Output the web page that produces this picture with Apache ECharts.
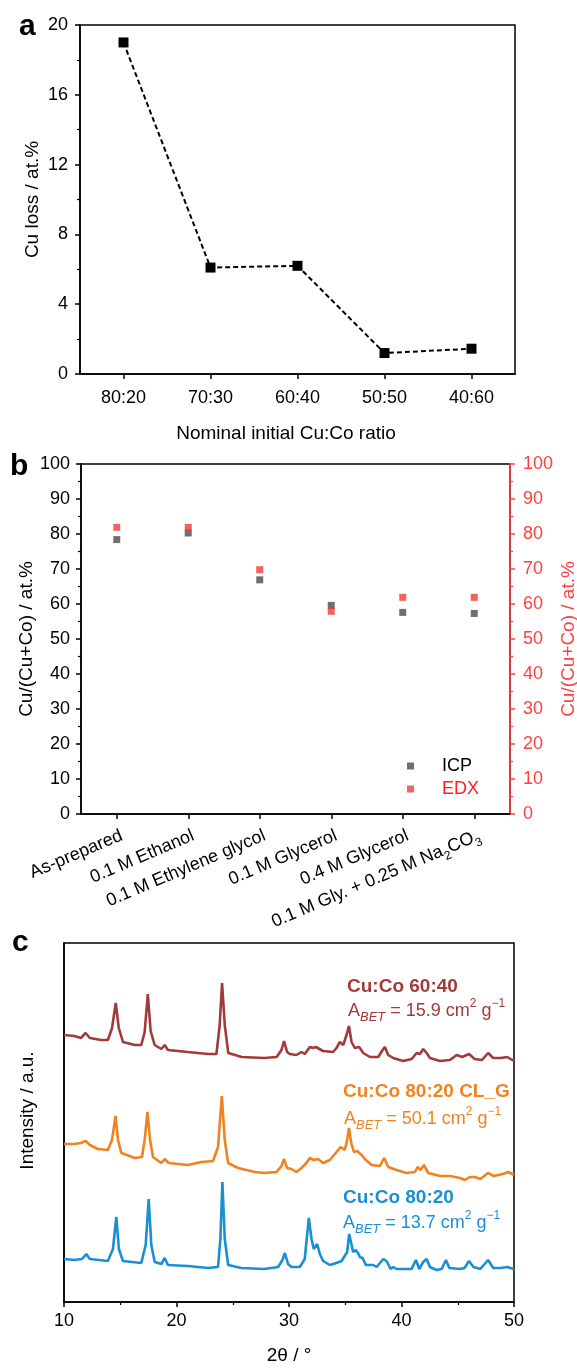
<!DOCTYPE html>
<html><head><meta charset="utf-8">
<script src="https://cdn.jsdelivr.net/npm/echarts@6/dist/echarts.min.js"></script>
<style>html,body{margin:0;padding:0;background:#fff}#c{width:577px;height:1370px}</style>
</head><body><div id="c"></div>
<script>
// ---- Panel a data ----
const ratioCats = ['80:20', '70:30', '60:40', '50:50', '40:60'];
const cuLoss = [19.0, 6.1, 6.2, 1.2, 1.45];

// ---- Panel b data ----
const solCats = ['As-prepared', '0.1 M Ethanol', '0.1 M Ethylene glycol', '0.1 M Glycerol', '0.4 M Glycerol', '0.1 M Gly. + 0.25 M Na2CO3'];
const icp = [78.4, 80.3, 66.9, 59.6, 57.6, 57.3];
const edx = [81.9, 81.9, 69.8, 57.9, 61.9, 61.9];

// ---- Panel c data: [2theta, intensity (a.u.)] ----
const xrd6040 = [[10.0,267],[10.9,266],[11.5,264],[11.92,269],[12.3,264],[13.3,262],[13.9,262],[14.27,274],[14.6,299],[14.87,274],[15.24,260],[16.3,257],[16.87,257],[17.17,270],[17.45,308],[17.7,271],[18.06,257],[18.65,253],[18.95,257],[19.24,252],[21.0,250],[22.8,248],[23.55,248],[23.84,277],[24.05,319],[24.29,277],[24.6,249],[25.8,245],[27.8,244],[28.9,245],[29.33,252],[29.56,261],[29.83,250],[30.07,248],[30.66,247],[31.11,250],[31.4,248],[31.85,255],[32.15,254],[32.38,255],[33.03,251],[33.92,250],[34.22,254],[34.52,260],[34.82,257],[35.11,267],[35.33,276],[35.56,260],[35.85,254],[36.24,255],[36.6,249],[37.19,245],[37.93,245],[38.32,252],[38.52,255],[38.82,247],[39.26,244],[40.15,241],[40.9,243],[41.34,249],[41.64,248],[41.93,253],[42.23,249],[42.53,244],[43.42,241],[44.3,242],[44.9,247],[45.4,245],[46.0,248],[46.5,243],[47.15,242],[47.7,249],[48.15,244],[48.8,244],[49.4,245],[50.0,241]];
const xrd8020CLG = [[10.0,158],[10.9,158],[11.5,159],[11.92,161],[12.3,157],[13.0,153],[13.9,152],[14.27,162],[14.58,186],[14.8,162],[15.1,149],[16.3,144],[16.93,145],[17.17,162],[17.42,190],[17.65,162],[17.91,145],[18.65,139],[18.95,143],[19.31,139],[21.0,137],[22.2,140],[23.25,141],[23.69,155],[24.03,206],[24.29,162],[24.59,139],[25.47,134],[26.96,130],[27.8,129],[28.9,130],[29.33,136],[29.56,143],[29.83,134],[30.22,133],[30.66,130],[31.11,134],[31.55,139],[31.85,144],[32.2,142],[32.59,143],[33.03,139],[33.63,142],[34.22,150],[34.58,155],[34.96,152],[35.17,162],[35.33,174],[35.53,159],[35.77,150],[36.06,151],[36.45,147],[36.83,142],[37.34,137],[38.08,136],[38.46,144],[38.82,135],[39.56,132],[40.45,129],[41.19,130],[41.43,135],[41.7,132],[41.99,137],[42.38,129],[43.42,126],[44.3,126],[45.2,124],[45.64,122],[46.08,125],[46.5,125],[47.0,123],[47.7,129],[48.2,126],[49.0,128],[49.5,130],[50.0,127]];
const xrd8020 = [[10.0,43],[10.9,42],[11.6,43],[11.98,48],[12.3,43],[13.9,41],[14.35,53],[14.65,85],[14.88,53],[15.24,41],[16.87,39],[17.26,57],[17.53,103],[17.76,57],[18.06,40],[18.65,38],[18.95,44],[19.24,37],[21.0,36],[22.8,34],[23.69,35],[23.9,63],[24.08,120],[24.29,63],[24.59,37],[25.77,34],[27.8,33],[29.03,35],[29.42,42],[29.63,49],[29.92,38],[30.22,35],[30.96,35],[31.4,43],[31.61,67],[31.76,84],[32.0,63],[32.2,53],[32.5,58],[32.74,48],[33.03,41],[33.63,37],[34.22,39],[34.67,41],[35.17,50],[35.35,68],[35.47,70],[35.7,50],[35.94,52],[36.18,48],[36.3,45],[36.54,44],[36.83,37],[37.49,37],[37.79,35],[38.38,43],[38.67,41],[39.03,33],[39.26,35],[39.56,33],[40.45,33],[40.9,33],[41.28,42],[41.58,33],[41.93,40],[42.23,43],[42.53,35],[43.12,32],[43.57,33],[43.95,42],[44.25,34],[45.2,33],[45.6,34],[46.0,41],[46.4,35],[47.0,33],[47.7,42],[48.15,34],[48.8,34],[49.4,35],[50.0,33]];

const FONT = 'Liberation Sans, Arial, Helvetica, sans-serif';
const C_RED = '#a23a3a', C_ORA = '#f0831f', C_BLU = '#1a8fd3';
const AX_RED = '#ff4040';

const chart = echarts.init(document.getElementById('c'), null, {renderer: 'canvas'});

const axLine = (c) => ({show: true, onZero: false, lineStyle: {color: c || '#000', width: 1.5}});
const tick = (c) => ({show: true, inside: false, length: 5, lineStyle: {color: c || '#000', width: 1.5}});
const minor = (c) => ({show: true, splitNumber: 2, length: 3, lineStyle: {color: c || '#000', width: 1.2}});

function abet(val) {
  return '{a|A}{b|BET}{a| = ' + val + ' cm}{c|2}{a| g}{c|\u22121}';
}
function abetRich(color) {
  return {
    a: {fontSize: 18, fontFamily: FONT, fill: color, lineHeight: 26},
    b: {fontSize: 13, fontFamily: FONT, fontStyle: 'italic', fill: color, verticalAlign: 'bottom', lineHeight: 13},
    c: {fontSize: 12, fontFamily: FONT, fill: color, verticalAlign: 'top', lineHeight: 14}
  };
}
const gridBase = {show: true, borderColor: '#000', borderWidth: 1.5, backgroundColor: 'transparent', containLabel: false, outerBoundsMode: 'none'};

const option = {
  animation: false,
  backgroundColor: '#fff',
  textStyle: {fontFamily: FONT},
  grid: [
    Object.assign({left: 80, top: 25, width: 435, height: 349}, gridBase),
    Object.assign({left: 81, top: 464, width: 429, height: 350}, gridBase),
    Object.assign({left: 64, top: 943, width: 450, height: 359}, gridBase)
  ],
  xAxis: [
    {gridIndex: 0, type: 'category', data: ratioCats, boundaryGap: true,
     axisLine: axLine(), axisTick: Object.assign(tick(), {alignWithLabel: true}),
     axisLabel: {fontSize: 18, color: '#000', margin: 15, fontFamily: FONT},
     splitLine: {show: false},
     name: 'Nominal initial Cu:Co ratio', nameLocation: 'middle', nameGap: 50, nameMoveOverlap: false,
     nameTextStyle: {fontSize: 19, color: '#000', fontFamily: FONT, padding: [0, 23, 0, 0]}},
    {gridIndex: 1, type: 'category', data: solCats, boundaryGap: true,
     axisLine: axLine(), axisTick: Object.assign(tick(), {alignWithLabel: true}),
     axisLabel: {fontSize: 18, color: '#000', margin: 9, rotate: 23, fontFamily: FONT, lineHeight: 26,
       verticalAlign: 'top', hideOverlap: false,
       formatter: (v) => v.replace('Na2CO3', 'Na{s|2}CO{s|3}'),
       rich: {s: {fontSize: 12, color: '#000', fontFamily: FONT, verticalAlign: 'bottom', lineHeight: 12}}},
     splitLine: {show: false}},
    {gridIndex: 2, type: 'value', min: 10, max: 50, interval: 10,
     axisLine: axLine(), axisTick: tick(), minorTick: minor(),
     axisLabel: {fontSize: 18, color: '#000', margin: 10, fontFamily: FONT},
     splitLine: {show: false}, minorSplitLine: {show: false},
     name: '2\u03b8 / \u00b0', nameLocation: 'middle', nameGap: 44, nameMoveOverlap: false,
     nameTextStyle: {fontSize: 19, color: '#000', fontFamily: FONT}}
  ],
  yAxis: [
    {gridIndex: 0, type: 'value', min: 0, max: 20, interval: 4,
     axisLine: axLine(), axisTick: tick(), minorTick: minor(),
     axisLabel: {fontSize: 18, color: '#000', margin: 12, fontFamily: FONT},
     splitLine: {show: false}, minorSplitLine: {show: false},
     name: 'Cu loss / at.%', nameLocation: 'middle', nameGap: 38, nameRotate: 90, nameMoveOverlap: false,
     nameTextStyle: {fontSize: 19, color: '#000', fontFamily: FONT}},
    {gridIndex: 1, type: 'value', min: 0, max: 100, interval: 10, position: 'left',
     axisLine: axLine(), axisTick: tick(), minorTick: minor(),
     axisLabel: {fontSize: 18, color: '#000', margin: 11, fontFamily: FONT},
     splitLine: {show: false}, minorSplitLine: {show: false},
     name: 'Cu/(Cu+Co) / at.%', nameLocation: 'middle', nameGap: 45, nameRotate: 90, nameMoveOverlap: false,
     nameTextStyle: {fontSize: 19, color: '#000', fontFamily: FONT}},
    {gridIndex: 1, type: 'value', min: 0, max: 100, interval: 10, position: 'right',
     axisLine: axLine(AX_RED), axisTick: tick(AX_RED), minorTick: minor(AX_RED),
     axisLabel: {fontSize: 18, color: AX_RED, margin: 13, fontFamily: FONT},
     splitLine: {show: false}, minorSplitLine: {show: false},
     name: 'Cu/(Cu+Co) / at.%', nameLocation: 'middle', nameGap: 49, nameRotate: 90, nameMoveOverlap: false,
     nameTextStyle: {fontSize: 19, color: AX_RED, fontFamily: FONT}},
    {gridIndex: 2, type: 'value', min: 0, max: 359,
     axisLine: axLine(), axisTick: {show: false}, axisLabel: {show: false},
     splitLine: {show: false},
     name: 'Intensity / a.u.', nameLocation: 'middle', nameGap: 27, nameRotate: 90, nameMoveOverlap: false,
     nameTextStyle: {fontSize: 19, color: '#000', fontFamily: FONT, padding: [0, 0, 0, 24]}}
  ],
  legend: {
    left: 402, top: 752, orient: 'vertical', itemWidth: 7, itemHeight: 7, itemGap: 5,
    textStyle: {fontSize: 18, fontFamily: FONT, padding: [0, 0, 0, 23]},
    data: [
      {name: 'ICP', icon: 'rect', textStyle: {color: '#000'}},
      {name: 'EDX', icon: 'rect', textStyle: {color: '#ff2020'}}
    ]
  },
  series: [
    {type: 'line', name: 'Cu loss', xAxisIndex: 0, yAxisIndex: 0, data: cuLoss,
     symbol: 'rect', symbolSize: 10, itemStyle: {color: '#000'},
     lineStyle: {color: '#000', width: 2, type: [5, 3]}},
    {type: 'scatter', name: 'ICP', xAxisIndex: 1, yAxisIndex: 1, data: icp,
     symbol: 'rect', symbolSize: 7, itemStyle: {color: '#4b4b4b'}},
    {type: 'scatter', name: 'EDX', xAxisIndex: 1, yAxisIndex: 2, data: edx,
     symbol: 'rect', symbolSize: 7, itemStyle: {color: '#f03a3a'}},
    {type: 'line', name: 'Cu:Co 60:40', xAxisIndex: 2, yAxisIndex: 3, data: xrd6040,
     showSymbol: false, lineStyle: {color: C_RED, width: 2.6}, itemStyle: {color: C_RED}},
    {type: 'line', name: 'Cu:Co 80:20 CL_G', xAxisIndex: 2, yAxisIndex: 3, data: xrd8020CLG,
     showSymbol: false, lineStyle: {color: C_ORA, width: 2.6}, itemStyle: {color: C_ORA}},
    {type: 'line', name: 'Cu:Co 80:20', xAxisIndex: 2, yAxisIndex: 3, data: xrd8020,
     showSymbol: false, lineStyle: {color: C_BLU, width: 2.6}, itemStyle: {color: C_BLU}}
  ],
  graphic: [
    {type: 'text', x: 19, y: 27, style: {text: 'a', fontSize: 30, fontWeight: 'bold', fontFamily: FONT, fill: '#000', align: 'left', verticalAlign: 'middle'}},
    {type: 'text', x: 10, y: 467, style: {text: 'b', fontSize: 30, fontWeight: 'bold', fontFamily: FONT, fill: '#000', align: 'left', verticalAlign: 'middle'}},
    {type: 'text', x: 12, y: 943, style: {text: 'c', fontSize: 30, fontWeight: 'bold', fontFamily: FONT, fill: '#000', align: 'left', verticalAlign: 'middle'}},
    {type: 'text', x: 347, y: 987, style: {text: 'Cu:Co 60:40', fontSize: 19, fontWeight: 'bold', fontFamily: FONT, fill: C_RED, align: 'left', verticalAlign: 'middle'}},
    {type: 'text', x: 348, y: 1011, style: {text: abet('15.9'), rich: abetRich(C_RED), fill: C_RED, fontSize: 18, fontFamily: FONT, align: 'left', verticalAlign: 'middle'}},
    {type: 'text', x: 343, y: 1092, style: {text: 'Cu:Co 80:20 CL_G', fontSize: 19, fontWeight: 'bold', fontFamily: FONT, fill: C_ORA, align: 'left', verticalAlign: 'middle'}},
    {type: 'text', x: 344, y: 1119, style: {text: abet('50.1'), rich: abetRich(C_ORA), fill: C_ORA, fontSize: 18, fontFamily: FONT, align: 'left', verticalAlign: 'middle'}},
    {type: 'text', x: 343, y: 1198, style: {text: 'Cu:Co 80:20', fontSize: 19, fontWeight: 'bold', fontFamily: FONT, fill: C_BLU, align: 'left', verticalAlign: 'middle'}},
    {type: 'text', x: 343, y: 1223, style: {text: abet('13.7'), rich: abetRich(C_BLU), fill: C_BLU, fontSize: 18, fontFamily: FONT, align: 'left', verticalAlign: 'middle'}}
  ]
};
chart.setOption(option);
</script>
</body></html>
